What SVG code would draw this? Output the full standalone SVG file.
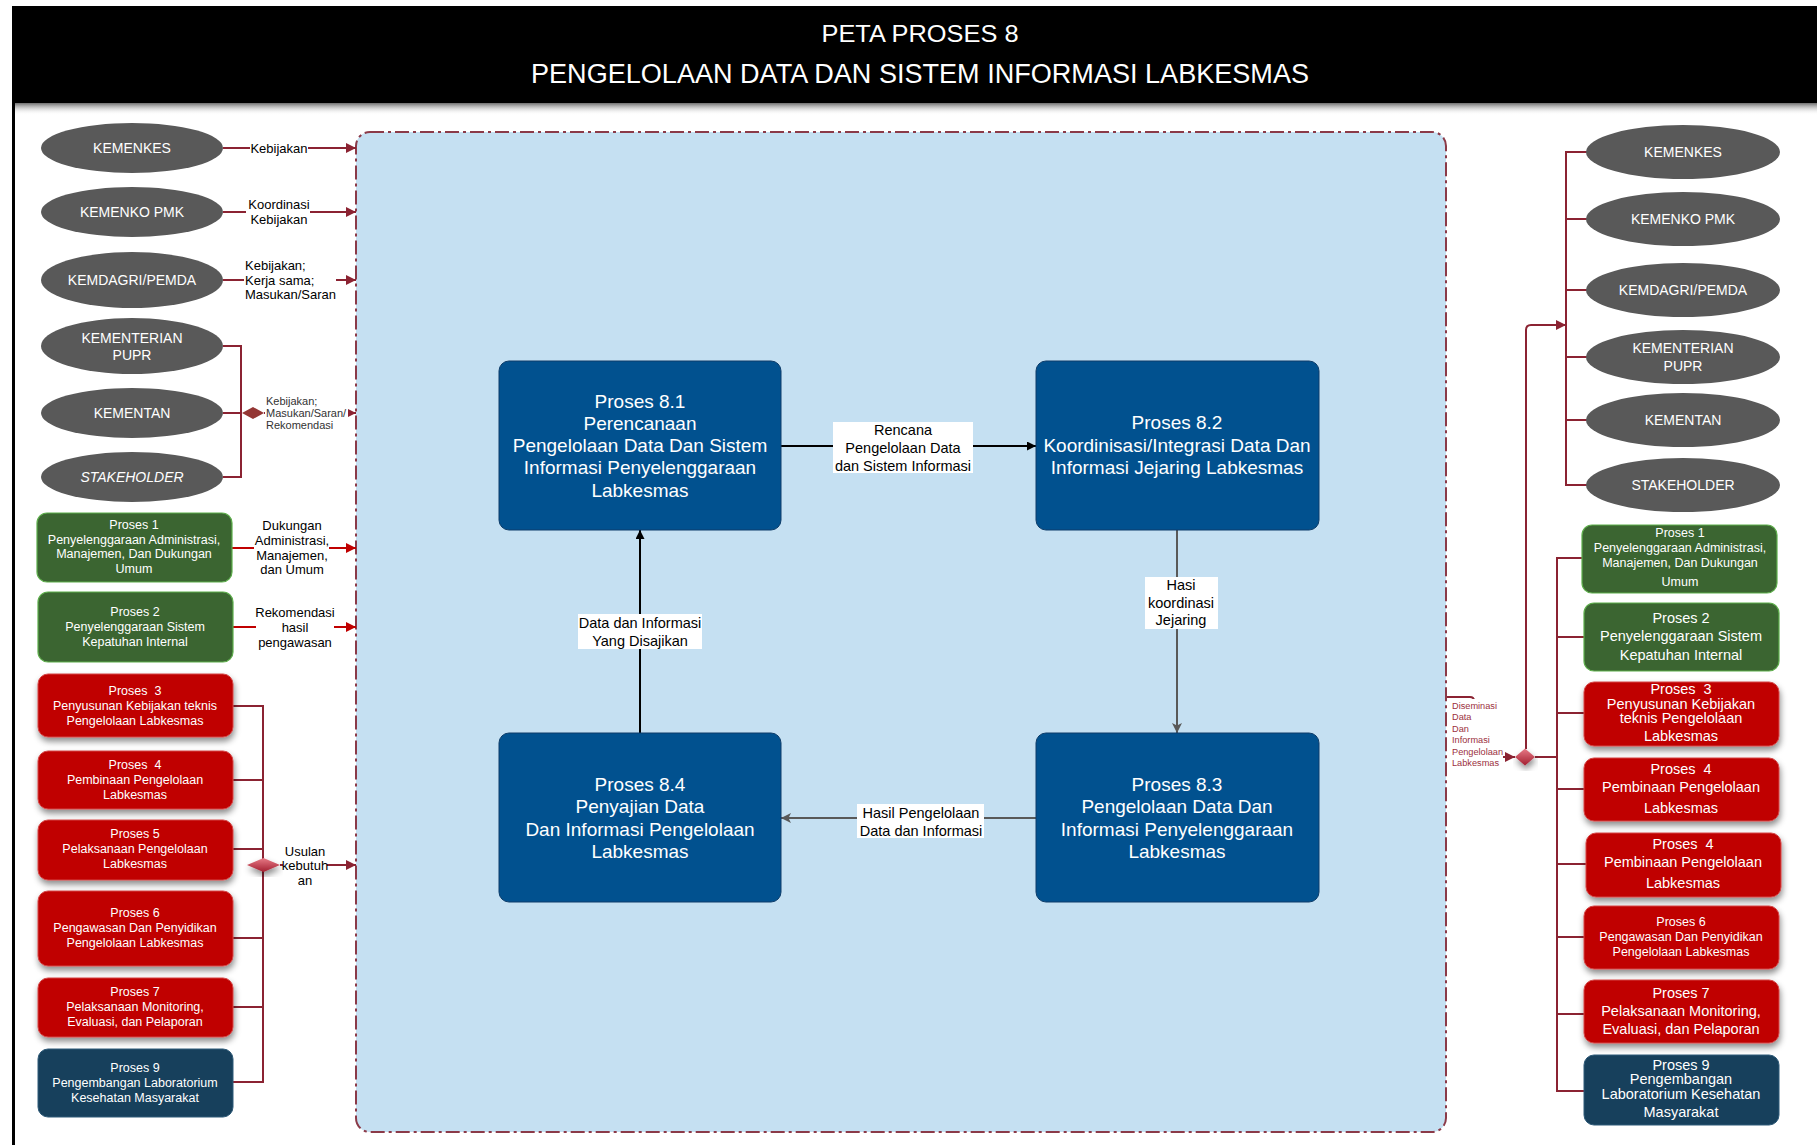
<svg xmlns="http://www.w3.org/2000/svg" width="1817" height="1145" viewBox="0 0 1817 1145" font-family="'Liberation Sans', Arial, sans-serif">
  <style>
    .ell { fill: #595959; }
    .et { fill: #ffffff; font-size: 14px; text-anchor: middle; }
    .gr { fill: #3B6531; stroke: #5DAE4B; stroke-width: 1.2; }
    .rd { fill: #C00000; stroke: #D44848; stroke-width: 1; filter: url(#sh); }
    .bl { fill: #17405C; stroke: #2E5A78; stroke-width: 1; }
    .pt { fill: #ffffff; font-size: 12.5px; text-anchor: middle; white-space: pre; }
    .pt2 { fill: #ffffff; font-size: 14.5px; text-anchor: middle; white-space: pre; }
    .cb { fill: #01518F; stroke: #0E3D6A; stroke-width: 1; }
    .ct { fill: #ffffff; font-size: 19px; text-anchor: middle; }
    .lbl { fill: #000000; font-size: 14.5px; text-anchor: middle; }
    .sl { fill: #000000; font-size: 13px; text-anchor: middle; }
    .sls { fill: #000000; font-size: 13px; text-anchor: start; }
    .bg { fill: #ffffff; }
    .dr { stroke: #8B2332; stroke-width: 2; fill: none; }
    .rr { stroke: #C00000; stroke-width: 2; fill: none; }
    .bk { stroke: #000000; stroke-width: 2; fill: none; }
    .gy { stroke: #595959; stroke-width: 2; fill: none; }
  </style>
  <defs>
    <marker id="ah-dr" viewBox="0 0 10 10" refX="10" refY="5" markerWidth="12" markerHeight="10" markerUnits="userSpaceOnUse" orient="auto">
      <path d="M0,0 L10,5 L0,10 z" fill="#8B2332"/>
    </marker>
    <marker id="ah-r" viewBox="0 0 10 10" refX="10" refY="5" markerWidth="12" markerHeight="10" markerUnits="userSpaceOnUse" orient="auto">
      <path d="M0,0 L10,5 L0,10 z" fill="#C00000"/>
    </marker>
    <marker id="ah-bk" viewBox="0 0 10 10" refX="10" refY="5" markerWidth="10" markerHeight="9" markerUnits="userSpaceOnUse" orient="auto">
      <path d="M0,0 L10,5 L0,10 z" fill="#000000"/>
    </marker>
    <marker id="ah-gy" viewBox="0 0 10 10" refX="10" refY="5" markerWidth="11" markerHeight="10" markerUnits="userSpaceOnUse" orient="auto">
      <path d="M0,0 L10,5 L0,10 L2.5,5 z" fill="#595959"/>
    </marker>
    <linearGradient id="hdrShade" x1="0" y1="0" x2="0" y2="1">
      <stop offset="0" stop-color="#6e6e6e"/>
      <stop offset="1" stop-color="#ffffff" stop-opacity="0"/>
    </linearGradient>
    <linearGradient id="dg" x1="0" y1="0" x2="0" y2="1">
      <stop offset="0" stop-color="#E77A86"/>
      <stop offset="1" stop-color="#A31F30"/>
    </linearGradient>
    <filter id="sh" x="-10%" y="-10%" width="125%" height="140%">
      <feDropShadow dx="1" dy="4" stdDeviation="3" flood-color="#000000" flood-opacity="0.45"/>
    </filter>
  </defs>

  <!-- header band -->
  <g id="header">
    <rect x="12" y="6" width="1805" height="97" fill="#000000"/>
    <rect x="12" y="103" width="1805" height="12" fill="url(#hdrShade)"/>
    <rect x="12" y="103" width="3" height="1042" fill="#000000"/>
    <text x="920" y="42" fill="#ffffff" font-size="24" text-anchor="middle" textLength="197" lengthAdjust="spacingAndGlyphs">PETA PROSES 8</text>
    <text x="920" y="83" fill="#ffffff" font-size="27" text-anchor="middle" textLength="778" lengthAdjust="spacingAndGlyphs">PENGELOLAAN DATA DAN SISTEM INFORMASI LABKESMAS</text>
  </g>

  <!-- process 8 container -->
  <g id="container">
    <rect x="356" y="132" width="1090" height="1000" rx="14" fill="#C5E0F2" stroke="#8B3A48" stroke-width="2" stroke-dasharray="14 4 3 4"/>
  </g>

  <!-- connectors -->
  <g id="connectors">
    <!-- left stakeholders -->
    <path class="dr" d="M223,148 H356" marker-end="url(#ah-dr)"/>
    <path class="dr" d="M223,212 H356" marker-end="url(#ah-dr)"/>
    <path class="dr" d="M223,280 H356" marker-end="url(#ah-dr)"/>
    <path class="dr" d="M223,346 H241 V477 H223 M223,413 H241"/>
    <path class="dr" d="M264,413 H356" marker-end="url(#ah-dr)"/>
    <!-- left supporting processes -->
    <path class="rr" d="M232,548 H356" marker-end="url(#ah-r)"/>
    <path class="rr" d="M233,627 H356" marker-end="url(#ah-r)"/>
    <path class="dr" d="M233,706 H263 V1082 H233 M233,780 H263 M233,849 H263 M233,938 H263 M233,1007 H263"/>
    <path class="dr" d="M280,865 H356" marker-end="url(#ah-dr)"/>
    <!-- inner flow -->
    <path class="bk" d="M781,446 H1036" marker-end="url(#ah-bk)"/>
    <path class="gy" d="M1177,530 V733" marker-end="url(#ah-gy)"/>
    <path class="gy" d="M1036,818 H781" marker-end="url(#ah-gy)"/>
    <path class="bk" d="M640,733 V530" marker-end="url(#ah-bk)"/>
    <!-- right outputs -->
    <path class="dr" d="M1447,697 H1470 Q1474,697 1474,701 V757 H1515" marker-end="url(#ah-dr)"/>
    <path class="dr" d="M1526,749 V330 Q1526,325 1531,325 H1566" marker-end="url(#ah-dr)"/>
    <path class="dr" d="M1587,152 H1566 V485 H1587 M1566,219 H1587 M1566,290 H1587 M1566,357 H1587 M1566,420 H1587"/>
    <path class="dr" d="M1535,757 H1557 M1582,558 H1557 V1091 H1584 M1557,637 H1584 M1557,713 H1584 M1557,789 H1584 M1557,864 H1586 M1557,937 H1584 M1557,1014 H1584"/>
    <!-- junction diamonds -->
    <path d="M242,413 L253,407 L264,413 L253,419 z" fill="#943634"/>
    <path d="M247,865 L263.5,858 L280,865 L263.5,872 z" fill="url(#dg)" filter="url(#sh)"/>
    <path d="M1515,757 L1525,748.5 L1535,757 L1525,765.5 z" fill="url(#dg)" filter="url(#sh)"/>
  </g>

  <!-- connector labels -->
  <g id="labels">
    <rect class="bg" x="250" y="140" width="58" height="15"/>
    <text class="sl" x="279" y="152.5">Kebijakan</text>
    <rect class="bg" x="246" y="196" width="64" height="32"/>
    <text class="sl" x="279" y="208.5">Koordinasi</text>
    <text class="sl" x="279" y="223.5">Kebijakan</text>
    <rect class="bg" x="244" y="257" width="92" height="46"/>
    <text class="sls" x="245" y="269.5">Kebijakan;</text>
    <text class="sls" x="245" y="284.5">Kerja sama;</text>
    <text class="sls" x="245" y="299">Masukan/Saran</text>
    <rect class="bg" x="265" y="395" width="83" height="37"/>
    <text x="266" y="404.5" font-size="11" fill="#333333">Kebijakan;</text>
    <text x="266" y="417" font-size="11" fill="#333333">Masukan/Saran/</text>
    <text x="266" y="429" font-size="11" fill="#333333">Rekomendasi</text>
    <rect class="bg" x="254" y="515" width="75" height="62"/>
    <text class="sl" x="292" y="529.5">Dukungan</text>
    <text class="sl" x="292" y="544.5">Administrasi,</text>
    <text class="sl" x="292" y="559.5">Manajemen,</text>
    <text class="sl" x="292" y="573.5">dan Umum</text>
    <rect class="bg" x="256" y="601" width="78" height="48"/>
    <text class="sl" x="295" y="616.5">Rekomendasi</text>
    <text class="sl" x="295" y="631.5">hasil</text>
    <text class="sl" x="295" y="646.5">pengawasan</text>
    <rect class="bg" x="283" y="840" width="44" height="47"/>
    <text class="sl" x="305" y="855.5">Usulan</text>
    <text class="sl" x="305" y="869.5">kebutuh</text>
    <text class="sl" x="305" y="884.5">an</text>

    <rect class="bg" x="833" y="422" width="140" height="51"/>
    <text class="lbl" x="903" y="435">Rencana</text>
    <text class="lbl" x="903" y="453">Pengelolaan Data</text>
    <text class="lbl" x="903" y="471">dan Sistem Informasi</text>
    <rect class="bg" x="1145" y="577" width="73" height="52"/>
    <text class="lbl" x="1181" y="590">Hasi</text>
    <text class="lbl" x="1181" y="608">koordinasi</text>
    <text class="lbl" x="1181" y="625">Jejaring</text>
    <rect class="bg" x="857" y="804" width="127" height="34"/>
    <text class="lbl" x="921" y="818">Hasil Pengelolaan</text>
    <text class="lbl" x="921" y="836">Data dan Informasi</text>
    <rect class="bg" x="578" y="614" width="124" height="35"/>
    <text class="lbl" x="640" y="628">Data dan Informasi</text>
    <text class="lbl" x="640" y="646">Yang Disajikan</text>

    <rect class="bg" x="1450" y="699" width="53" height="69"/>
    <g font-size="9.2" fill="#9B3040">
      <text x="1452" y="708.5">Diseminasi</text>
      <text x="1452" y="719.5">Data</text>
      <text x="1452" y="731.5">Dan</text>
      <text x="1452" y="742.5">Informasi</text>
      <text x="1452" y="754.5">Pengelolaan</text>
      <text x="1452" y="765.5">Labkesmas</text>
    </g>
  </g>

  <!-- left stakeholders -->
  <g id="l-kemenkes"><ellipse class="ell" cx="132" cy="148" rx="91" ry="25"/><text class="et" x="132" y="153">KEMENKES</text></g>
  <g id="l-kemenko"><ellipse class="ell" cx="132" cy="212" rx="91" ry="25"/><text class="et" x="132" y="217">KEMENKO PMK</text></g>
  <g id="l-kemdagri"><ellipse class="ell" cx="132" cy="280" rx="91" ry="28"/><text class="et" x="132" y="285">KEMDAGRI/PEMDA</text></g>
  <g id="l-pupr"><ellipse class="ell" cx="132" cy="346" rx="91" ry="28"/><text class="et" x="132" y="343">KEMENTERIAN</text><text class="et" x="132" y="360">PUPR</text></g>
  <g id="l-kementan"><ellipse class="ell" cx="132" cy="413" rx="91" ry="25"/><text class="et" x="132" y="418">KEMENTAN</text></g>
  <g id="l-stakeholder"><ellipse class="ell" cx="132" cy="477" rx="91" ry="25"/><text class="et" x="132" y="482" font-style="italic">STAKEHOLDER</text></g>

  <!-- left supporting processes -->
  <g id="l-p1"><rect class="gr" x="37" y="513" width="195" height="69" rx="10"/>
    <text class="pt" x="134" y="529">Proses 1</text><text class="pt" x="134" y="544">Penyelenggaraan Administrasi,</text><text class="pt" x="134" y="558">Manajemen, Dan Dukungan</text><text class="pt" x="134" y="573">Umum</text></g>
  <g id="l-p2"><rect class="gr" x="38" y="592" width="195" height="70" rx="10"/>
    <text class="pt" x="135" y="616">Proses 2</text><text class="pt" x="135" y="631">Penyelenggaraan Sistem</text><text class="pt" x="135" y="646">Kepatuhan Internal</text></g>
  <g id="l-p3"><rect class="rd" x="38" y="674" width="195" height="63" rx="10"/>
    <text class="pt" x="135" y="695">Proses  3</text><text class="pt" x="135" y="710">Penyusunan Kebijakan teknis</text><text class="pt" x="135" y="725">Pengelolaan Labkesmas</text></g>
  <g id="l-p4"><rect class="rd" x="38" y="751" width="195" height="58" rx="10"/>
    <text class="pt" x="135" y="769">Proses  4</text><text class="pt" x="135" y="784">Pembinaan Pengelolaan</text><text class="pt" x="135" y="799">Labkesmas</text></g>
  <g id="l-p5"><rect class="rd" x="38" y="820" width="195" height="60" rx="10"/>
    <text class="pt" x="135" y="838">Proses 5</text><text class="pt" x="135" y="853">Pelaksanaan Pengelolaan</text><text class="pt" x="135" y="868">Labkesmas</text></g>
  <g id="l-p6"><rect class="rd" x="38" y="891" width="195" height="75" rx="10"/>
    <text class="pt" x="135" y="917">Proses 6</text><text class="pt" x="135" y="932">Pengawasan Dan Penyidikan</text><text class="pt" x="135" y="947">Pengelolaan Labkesmas</text></g>
  <g id="l-p7"><rect class="rd" x="38" y="978" width="195" height="59" rx="10"/>
    <text class="pt" x="135" y="996">Proses 7</text><text class="pt" x="135" y="1011">Pelaksanaan Monitoring,</text><text class="pt" x="135" y="1026">Evaluasi, dan Pelaporan</text></g>
  <g id="l-p9"><rect class="bl" x="38" y="1049" width="195" height="68" rx="10"/>
    <text class="pt" x="135" y="1072">Proses 9</text><text class="pt" x="135" y="1087">Pengembangan Laboratorium</text><text class="pt" x="135" y="1102">Kesehatan Masyarakat</text></g>

  <!-- sub-processes of process 8 -->
  <g id="p8-1"><rect class="cb" x="499" y="361" width="282" height="169" rx="10"/>
    <text class="ct" x="640" y="408">Proses 8.1</text><text class="ct" x="640" y="430">Perencanaan</text><text class="ct" x="640" y="452">Pengelolaan Data Dan Sistem</text><text class="ct" x="640" y="474">Informasi Penyelenggaraan</text><text class="ct" x="640" y="497">Labkesmas</text></g>
  <g id="p8-2"><rect class="cb" x="1036" y="361" width="283" height="169" rx="10"/>
    <text class="ct" x="1177" y="429">Proses 8.2</text><text class="ct" x="1177" y="452">Koordinisasi/Integrasi Data Dan</text><text class="ct" x="1177" y="474">Informasi Jejaring Labkesmas</text></g>
  <g id="p8-3"><rect class="cb" x="1036" y="733" width="283" height="169" rx="10"/>
    <text class="ct" x="1177" y="791">Proses 8.3</text><text class="ct" x="1177" y="813">Pengelolaan Data Dan</text><text class="ct" x="1177" y="836">Informasi Penyelenggaraan</text><text class="ct" x="1177" y="858">Labkesmas</text></g>
  <g id="p8-4"><rect class="cb" x="499" y="733" width="282" height="169" rx="10"/>
    <text class="ct" x="640" y="791">Proses 8.4</text><text class="ct" x="640" y="813">Penyajian Data</text><text class="ct" x="640" y="836">Dan Informasi Pengelolaan</text><text class="ct" x="640" y="858">Labkesmas</text></g>

  <!-- right stakeholders -->
  <g id="r-kemenkes"><ellipse class="ell" cx="1683" cy="152" rx="97" ry="27"/><text class="et" x="1683" y="157">KEMENKES</text></g>
  <g id="r-kemenko"><ellipse class="ell" cx="1683" cy="219" rx="97" ry="27"/><text class="et" x="1683" y="224">KEMENKO PMK</text></g>
  <g id="r-kemdagri"><ellipse class="ell" cx="1683" cy="290" rx="97" ry="27"/><text class="et" x="1683" y="295">KEMDAGRI/PEMDA</text></g>
  <g id="r-pupr"><ellipse class="ell" cx="1683" cy="357" rx="97" ry="27"/><text class="et" x="1683" y="353">KEMENTERIAN</text><text class="et" x="1683" y="371">PUPR</text></g>
  <g id="r-kementan"><ellipse class="ell" cx="1683" cy="420" rx="97" ry="27"/><text class="et" x="1683" y="425">KEMENTAN</text></g>
  <g id="r-stakeholder"><ellipse class="ell" cx="1683" cy="485" rx="97" ry="27"/><text class="et" x="1683" y="490">STAKEHOLDER</text></g>

  <!-- right supporting processes -->
  <g id="r-p1"><rect class="gr" x="1582" y="525" width="195" height="68" rx="10"/>
    <text class="pt" x="1680" y="537">Proses 1</text><text class="pt" x="1680" y="552">Penyelenggaraan Administrasi,</text><text class="pt" x="1680" y="567">Manajemen, Dan Dukungan</text><text class="pt" x="1680" y="586">Umum</text></g>
  <g id="r-p2"><rect class="gr" x="1584" y="603" width="195" height="68" rx="10"/>
    <text class="pt2" x="1681" y="623">Proses 2</text><text class="pt2" x="1681" y="641">Penyelenggaraan Sistem</text><text class="pt2" x="1681" y="660">Kepatuhan Internal</text></g>
  <g id="r-p3"><rect class="rd" x="1584" y="682" width="195" height="64" rx="10"/>
    <text class="pt2" x="1681" y="694">Proses  3</text><text class="pt2" x="1681" y="709">Penyusunan Kebijakan</text><text class="pt2" x="1681" y="723">teknis Pengelolaan</text><text class="pt2" x="1681" y="741">Labkesmas</text></g>
  <g id="r-p4"><rect class="rd" x="1584" y="758" width="195" height="63" rx="10"/>
    <text class="pt2" x="1681" y="774">Proses  4</text><text class="pt2" x="1681" y="792">Pembinaan Pengelolaan</text><text class="pt2" x="1681" y="813">Labkesmas</text></g>
  <g id="r-p4b"><rect class="rd" x="1586" y="833" width="195" height="64" rx="10"/>
    <text class="pt2" x="1683" y="849">Proses  4</text><text class="pt2" x="1683" y="867">Pembinaan Pengelolaan</text><text class="pt2" x="1683" y="888">Labkesmas</text></g>
  <g id="r-p6"><rect class="rd" x="1584" y="906" width="195" height="63" rx="10"/>
    <text class="pt" x="1681" y="926">Proses 6</text><text class="pt" x="1681" y="941">Pengawasan Dan Penyidikan</text><text class="pt" x="1681" y="956">Pengelolaan Labkesmas</text></g>
  <g id="r-p7"><rect class="rd" x="1584" y="980" width="195" height="63" rx="10"/>
    <text class="pt2" x="1681" y="998">Proses 7</text><text class="pt2" x="1681" y="1016">Pelaksanaan Monitoring,</text><text class="pt2" x="1681" y="1034">Evaluasi, dan Pelaporan</text></g>
  <g id="r-p9"><rect class="bl" x="1584" y="1055" width="195" height="70" rx="10"/>
    <text class="pt2" x="1681" y="1070">Proses 9</text><text class="pt2" x="1681" y="1084">Pengembangan</text><text class="pt2" x="1681" y="1099">Laboratorium Kesehatan</text><text class="pt2" x="1681" y="1117">Masyarakat</text></g>
</svg>
